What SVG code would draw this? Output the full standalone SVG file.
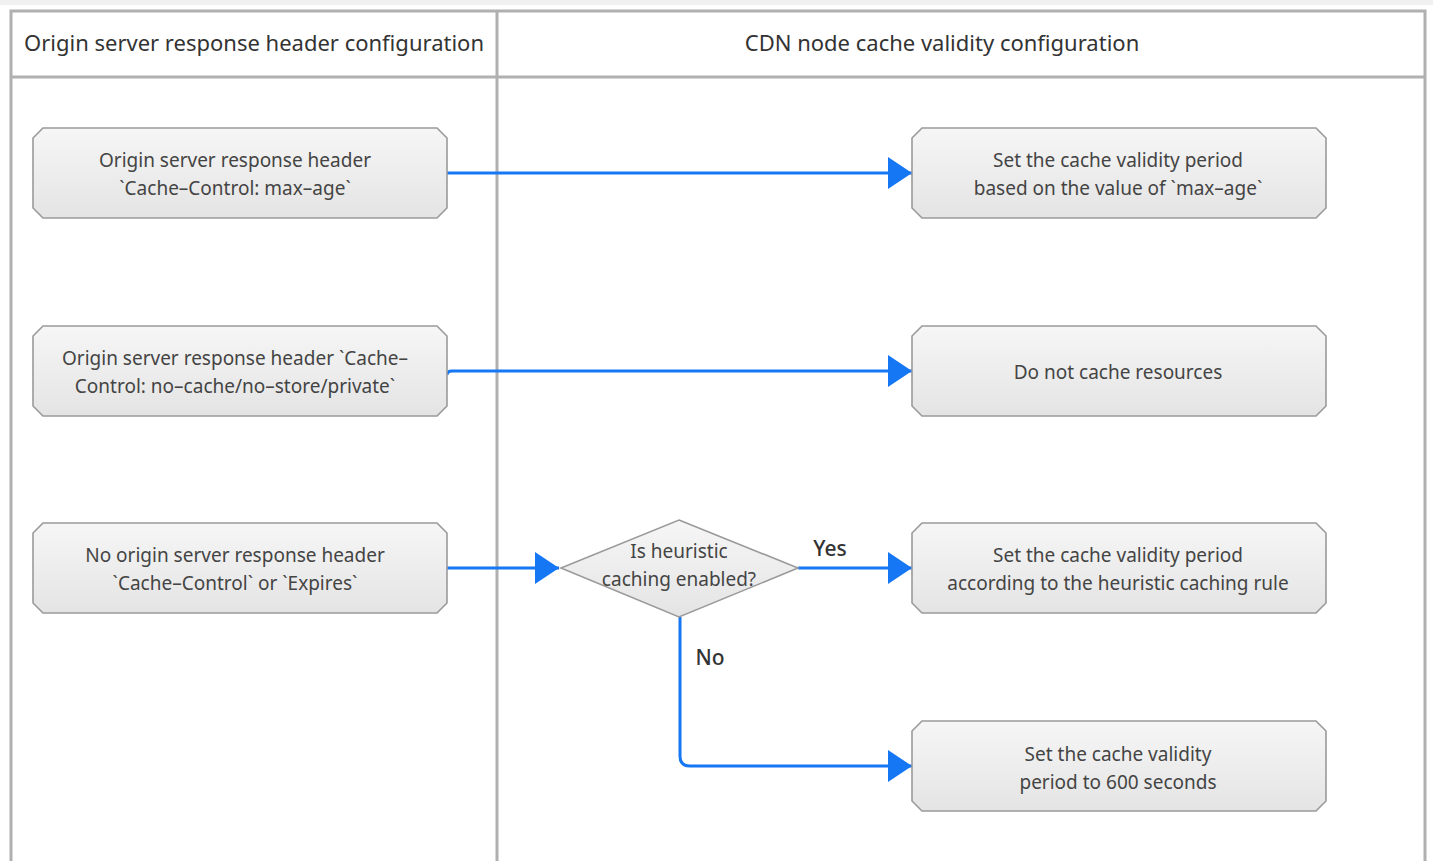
<svg xmlns="http://www.w3.org/2000/svg" width="1433" height="861" viewBox="0 0 1433 861">
  <defs>
    <linearGradient id="nodeFill" x1="0" y1="0" x2="0" y2="1">
      <stop offset="0" stop-color="#f6f6f6"/>
      <stop offset="1" stop-color="#e4e4e4"/>
    </linearGradient>
    <marker id="arrow" viewBox="0 0 24 32" refX="24" refY="16" markerWidth="24" markerHeight="32" markerUnits="userSpaceOnUse" orient="auto">
      <path d="M0,0 L24,16 L0,32 Z" fill="#1677f5"/>
    </marker>
    <style>
      .lane { fill: none; stroke: #b0b0b0; stroke-width: 3; }
      .head { font-family: "Noto Sans", "Liberation Sans", sans-serif; font-size: 22px; fill: #333; text-anchor: middle; }
      .node path, .node polygon { fill: url(#nodeFill); stroke: #9a9a9a; stroke-width: 1.6; }
      .node text { font-family: "Noto Sans", "Liberation Sans", sans-serif; font-size: 19px; fill: #444; text-anchor: middle; }
      .edge { fill: none; stroke: #1677f5; stroke-width: 3; marker-end: url(#arrow); }
      .label { font-family: "Noto Sans", "Liberation Sans", sans-serif; font-size: 21px; font-weight: 500; fill: #333; text-anchor: middle; }
    </style>
  </defs>

  <rect x="0" y="0" width="1433" height="861" fill="#ffffff"/>
  <rect x="0" y="0" width="1433" height="5" fill="#f0f0f0"/>

  <!-- swimlane frame -->
  <g id="lanes">
    <path class="lane" d="M11,861 V11 H1425 V861"/>
    <line class="lane" x1="11" y1="77" x2="1425" y2="77"/>
    <line class="lane" x1="497" y1="11" x2="497" y2="861"/>
    <text class="head" x="254" y="51">Origin server response header configuration</text>
    <text class="head" x="942" y="51">CDN node cache validity configuration</text>
  </g>

  <!-- connectors -->
  <g id="connectors">
    <path class="edge" d="M447,173 H912"/>
    <path class="edge" d="M447,375 Q447,371 452,371 H912"/>
    <path class="edge" d="M447,568 H559"/>
    <path class="edge" d="M798,568 H912"/>
    <path class="edge" d="M680,617 V756 Q680,766 690,766 H912"/>
    <text class="label" x="830" y="556">Yes</text>
    <text class="label" x="710" y="665">No</text>
  </g>

  <!-- left lane nodes -->
  <g id="origin-max-age" class="node">
    <path d="M43,128 H437 L447,138 V208 L437,218 H43 L33,208 V138 Z"/>
    <text x="235" y="167">Origin server response header</text>
    <text x="235" y="195">`Cache–Control: max–age`</text>
  </g>
  <g id="origin-no-cache" class="node">
    <path d="M43,326 H437 L447,336 V406 L437,416 H43 L33,406 V336 Z"/>
    <text x="235" y="365">Origin server response header `Cache–</text>
    <text x="235" y="393">Control: no–cache/no–store/private`</text>
  </g>
  <g id="origin-none" class="node">
    <path d="M43,523 H437 L447,533 V603 L437,613 H43 L33,603 V533 Z"/>
    <text x="235" y="562">No origin server response header</text>
    <text x="235" y="590">`Cache–Control` or `Expires`</text>
  </g>

  <!-- decision -->
  <g id="heuristic-check" class="node">
    <polygon points="679,520 798,568 679,617 561,568"/>
    <text x="679" y="558">Is heuristic</text>
    <text x="679" y="586">caching enabled?</text>
  </g>

  <!-- right lane nodes -->
  <g id="cdn-max-age" class="node">
    <path d="M922,128 H1316 L1326,138 V208 L1316,218 H922 L912,208 V138 Z"/>
    <text x="1118" y="167">Set the cache validity period</text>
    <text x="1118" y="195">based on the value of `max–age`</text>
  </g>
  <g id="cdn-no-cache" class="node">
    <path d="M922,326 H1316 L1326,336 V406 L1316,416 H922 L912,406 V336 Z"/>
    <text x="1118" y="379">Do not cache resources</text>
  </g>
  <g id="cdn-heuristic" class="node">
    <path d="M922,523 H1316 L1326,533 V603 L1316,613 H922 L912,603 V533 Z"/>
    <text x="1118" y="562">Set the cache validity period</text>
    <text x="1118" y="590">according to the heuristic caching rule</text>
  </g>
  <g id="cdn-600" class="node">
    <path d="M922,721 H1316 L1326,731 V801 L1316,811 H922 L912,801 V731 Z"/>
    <text x="1118" y="761">Set the cache validity</text>
    <text x="1118" y="789">period to 600 seconds</text>
  </g>
</svg>
